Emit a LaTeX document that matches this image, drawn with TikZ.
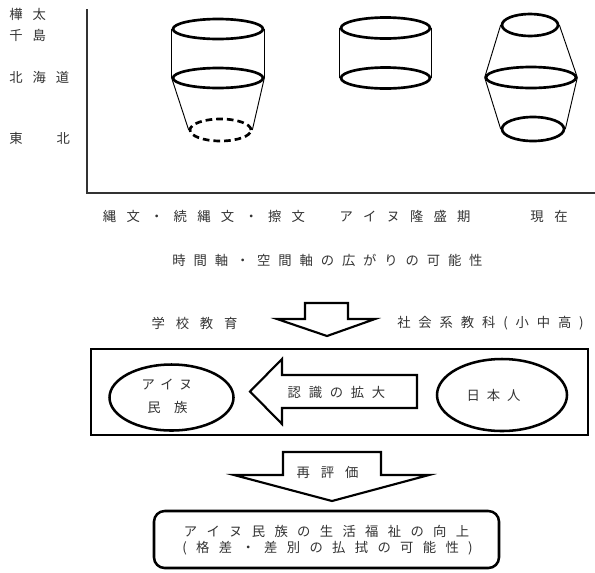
\documentclass[tikz,border=0pt]{standalone}
\usepackage{fontspec}
\setmainfont{Noto Sans CJK JP}
\usetikzlibrary{shapes.geometric}
\makeatletter
\newcommand\spaced[2]{{\def\spd@first{1}\@tfor\spd@c:=#2\do{\ifnum\spd@first=0 \hspace{#1}\fi\def\spd@first{0}\spd@c}}}
\makeatother
\tikzset{
  lbl/.style={inner sep=0pt, text=black!80, font=\fontsize{10pt}{12pt}\selectfont},
  ring/.style={ellipse, draw, line width=2pt, inner sep=0pt},
  side/.style={line width=0.7pt},
  axis/.style={line width=1.1pt, draw=black!80},
  blockarrow/.style={draw, line width=1.6pt, line join=miter, fill=white},
  framebox/.style={draw, line width=1.9pt, inner sep=0pt},
  oval/.style={ellipse, draw, line width=1.9pt, inner sep=0pt},
}
\begin{document}
\begin{tikzpicture}[x=0.75pt, y=-0.75pt]
\useasboundingbox (0,0) rectangle (595,572);

% axes
\coordinate (ax0) at (87,193);
\coordinate (axT) at (87,9);
\coordinate (axR) at (595,193);
\draw[axis] (axT) -- (ax0) -- (axR);

% left labels
\node[lbl, anchor=west] (l1) at (9,14) {\spaced{7.5pt}{樺太}};
\node[lbl, anchor=west] (l2) at (9,35) {\spaced{7.5pt}{千島}};
\node[lbl, anchor=west] (l3) at (9,77) {\spaced{7.5pt}{北海道}};
\node[lbl, anchor=west] (l4) at (9,138) {\spaced{25.5pt}{東北}};

% shape 1
\node[ring, minimum width=67.5pt, minimum height=15pt] (c1t) at (218,29) {};
\node[ring, minimum width=67.5pt, minimum height=15pt] (c1m) at (218,78) {};
\node[ring, dash pattern=on 5pt off 3pt, minimum width=45.75pt, minimum height=16.5pt] (c1b) at (220.5,130) {};
\draw[side] (c1t.west) -- (c1m.west);
\draw[side] (c1t.east) -- (c1m.east);
\draw[side] (c1m.west) -- (c1b.west);
\draw[side] (c1m.east) -- (c1b.east);

% shape 2
\node[ring, minimum width=66.75pt, minimum height=15.75pt] (c2t) at (385.5,28) {};
\node[ring, minimum width=66.75pt, minimum height=15.75pt] (c2m) at (385.5,78) {};
\draw[side] (c2t.west) -- (c2m.west);
\draw[side] (c2t.east) -- (c2m.east);

% shape 3
\node[ring, minimum width=42pt, minimum height=16.5pt] (c3t) at (530,25) {};
\node[ring, minimum width=67.5pt, minimum height=15.75pt] (c3m) at (531,77.5) {};
\node[ring, minimum width=46.5pt, minimum height=18pt] (c3b) at (533,129) {};
\draw[side] (c3t.west) -- (c3m.west);
\draw[side] (c3t.east) -- (c3m.east);
\draw[side] (c3m.west) -- (c3b.west);
\draw[side] (c3m.east) -- (c3b.east);

% period labels
\node[lbl] (p1) at (204,216) {\spaced{7.7pt}{縄文・続縄文・擦文}};
\node[lbl] (p2) at (405,216) {\spaced{7.6pt}{アイヌ隆盛期}};
\node[lbl] (p3) at (549,216) {\spaced{8pt}{現在}};
\node[lbl] (p4) at (327.5,260) {\spaced{5.9pt}{時間軸・空間軸の広がりの可能性}};

% top arrow
\draw[blockarrow] (305,303) -- (348,303) -- (348,319) -- (375,319) -- (327,336) -- (277,319) -- (305,319) -- cycle;
\node[lbl] (school) at (194.5,323) {\spaced{8.1pt}{学校教育}};
\node[lbl] (subj) at (490.5,323) {\spaced{5.9pt}{社会系教科(小中高)}};

% frame
\node[framebox, minimum width=372.75pt, minimum height=64.5pt] (frame) at (339.5,392) {};
\node[oval, minimum width=93pt, minimum height=49.5pt] (ainu) at (171.5,397.5) {};
\node[lbl] (ainu1) at (167,385) {\spaced{4.1pt}{アイヌ}};
\node[lbl] (ainu2) at (167.5,407) {\spaced{10.1pt}{民族}};
\node[oval, minimum width=97.5pt, minimum height=54pt] (jp) at (502,395) {};
\node[lbl] (jptext) at (493.5,395) {\spaced{5.25pt}{日本人}};
\draw[blockarrow] (250,391.5) -- (282,359) -- (282,375) -- (417,375) -- (417,408) -- (282,408) -- (282,424) -- cycle;
\node[lbl] (recog) at (336.5,392) {\spaced{5.8pt}{認識の拡大}};

% bottom arrow
\draw[blockarrow] (283,452) -- (381,452) -- (381,475) -- (429,475) -- (332,501) -- (234,475) -- (283,475) -- cycle;
\node[lbl] (reval) at (327.5,472) {\spaced{8.25pt}{再評価}};

% result box
\node[framebox, rounded corners=8pt, minimum width=258.75pt, minimum height=42.75pt] (result) at (326.5,539.5) {};
\node[lbl] (res1) at (326.5,531) {\spaced{7pt}{アイヌ民族の生活福祉の向上}};
\node[lbl] (res2) at (327.5,548) {\spaced{7pt}{(格差・差別の払拭の可能性)}};
\end{tikzpicture}
\end{document}
